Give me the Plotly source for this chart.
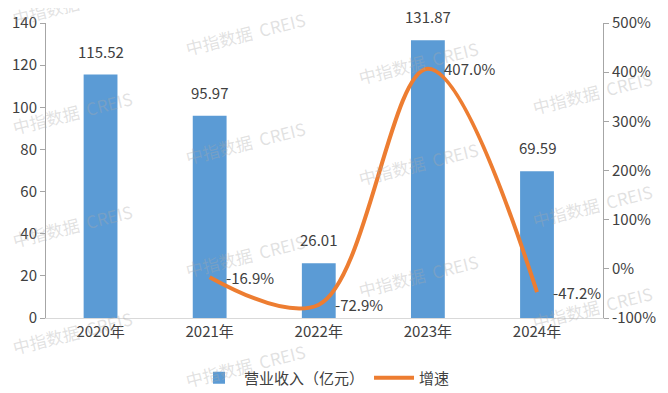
import plotly.graph_objects as go

categories = ["2020年", "2021年", "2022年", "2023年", "2024年"]
revenue = [115.52, 95.97, 26.01, 131.87, 69.59]
growth_cats = ["2021年", "2022年", "2023年", "2024年"]
growth = [-16.9, -72.9, 407.0, -47.2]
left_ticks = [0, 20, 40, 60, 80, 100, 120, 140]
right_ticks = [-100, 0, 100, 200, 300, 400, 500]

FONT = "Noto Sans CJK SC"
TXT = "#404040"
BAR = "#5B9BD5"
LINE = "#ED7D31"

fig = go.Figure()
fig.add_trace(go.Bar(
    x=categories, y=revenue, name="营业收入（亿元）",
    marker=dict(color=BAR, line=dict(width=0)),
    yaxis="y",
))
fig.add_trace(go.Scatter(
    x=growth_cats, y=growth, name="增速", mode="lines",
    line=dict(color=LINE, width=4, shape="spline", smoothing=1.0),
    yaxis="y2",
))

annotations = []
for c, v in zip(categories, revenue):
    annotations.append(dict(
        x=c, y=v, xref="x", yref="y", text=f"{v:.2f}", showarrow=False,
        yanchor="bottom", yshift=11, font=dict(family=FONT, size=15, color=TXT),
    ))
for c, v in zip(growth_cats, growth):
    annotations.append(dict(
        x=c, y=v, xref="x", yref="y2", text=f"{v:.1f}%", showarrow=False,
        xanchor="left", xshift=14, yanchor="middle", font=dict(family=FONT, size=15, color=TXT),
    ))

# page has an 8px body margin: figure is 660x385, placed at (8, 8)
OFF = 8
W, H = 668 - OFF, 393 - OFF
L, R, T, B = 46, 603, 23, 318  # plot area in page pixels

# watermarks (page pixel centres)
wm_cols = [72, 245, 418, 592]
wm_rows = [[4, 112, 225, 332], [33, 142, 255, 365], [62, 163, 275], [92, 205, 307]]
for cx, rows in zip(wm_cols, wm_rows):
    for cy in rows:
        annotations.append(dict(
            x=(cx - L) / (R - L), y=(B - cy) / (B - T), xref="paper", yref="paper",
            text="中指数据  CREIS", showarrow=False, textangle=-14,
            xanchor="center", yanchor="middle",
            font=dict(family=FONT, size=17, color="rgba(170,170,170,0.35)"),
        ))

fig.update_layout(
    width=W, height=H,
    margin=dict(l=L - OFF, r=W - (R - OFF), t=T - OFF, b=H - (B - OFF), autoexpand=False),
    plot_bgcolor="white", paper_bgcolor="white",
    bargap=0.69,
    font=dict(family=FONT, size=15, color=TXT),
    showlegend=True,
    legend=dict(orientation="h", x=0.5, xanchor="center", yref="container",
                y=1 - (378 - OFF) / H, yanchor="middle",
                font=dict(family=FONT, size=15, color=TXT), itemwidth=40),
    xaxis=dict(
        showline=True, linecolor="#d9d9d9", linewidth=1, ticks="", automargin=False,
        tickfont=dict(family=FONT, size=15, color=TXT), showgrid=False,
    ),
    yaxis=dict(
        range=[0, 140], tickvals=left_ticks, showgrid=False, zeroline=False, automargin=False,
        showline=True, linecolor="#a6a6a6", linewidth=1, ticks="outside",
        ticklen=5, tickcolor="#a6a6a6",
        tickfont=dict(family=FONT, size=15, color=TXT),
    ),
    yaxis2=dict(
        range=[-100, 500], tickvals=right_ticks, ticktext=[f"{t}%" for t in right_ticks],
        overlaying="y", side="right", showgrid=False, zeroline=False, automargin=False,
        showline=True, linecolor="#a6a6a6", linewidth=1, ticks="outside",
        ticklen=5, tickcolor="#a6a6a6",
        tickfont=dict(family=FONT, size=15, color=TXT),
    ),
    annotations=annotations,
)

fig.write_html("out.html")
